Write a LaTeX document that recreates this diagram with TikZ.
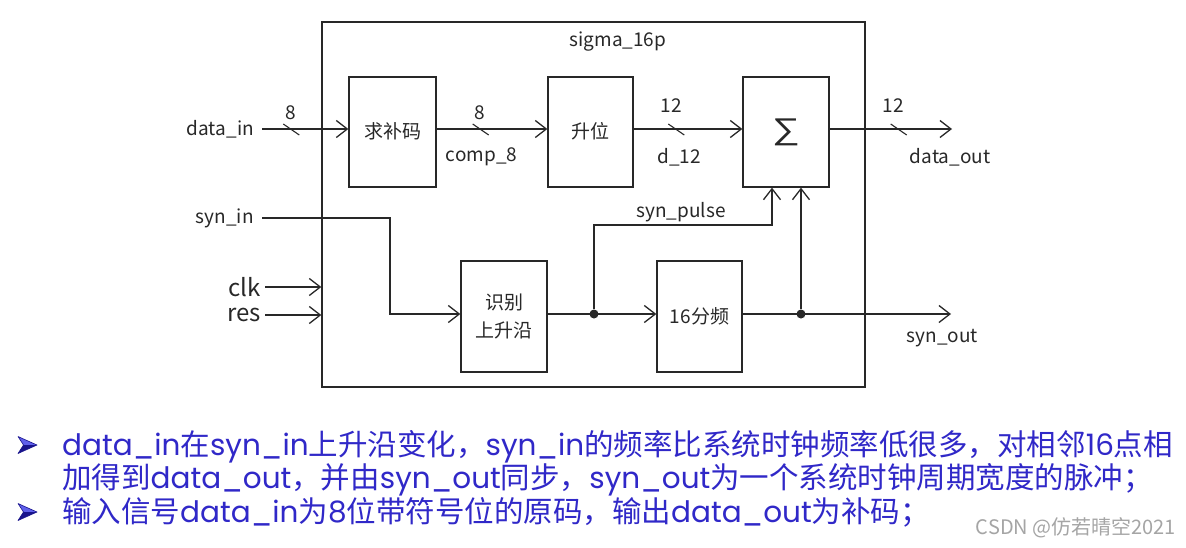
\documentclass[tikz,border=0pt]{standalone}
\usepackage{fontspec}
\usepackage{graphicx}
\setmainfont{Noto Sans CJK SC}
\newfontfamily\lat{Poppins}
\newfontfamily\lib{Liberation Sans}
\usetikzlibrary{arrows.meta,calc}
\definecolor{ink}{RGB}{40,40,40}
\definecolor{txtblue}{RGB}{48,40,200}
\definecolor{bulletdark}{RGB}{25,20,140}
\definecolor{bulletlight}{RGB}{95,95,235}
\definecolor{wm}{RGB}{165,165,165}
\begin{document}
\begin{tikzpicture}[x=1pt,y=-1pt,
 blk/.style={draw=ink, line width=1.3pt, minimum width=86pt, minimum height=110pt, inner sep=0pt, font=\fontsize{19}{28}\selectfont, text=ink, align=center},
 sig/.style={draw=ink, line width=1.3pt},
 arr/.style={sig, -{Straight Barb[length=11pt,width=17pt]}},
 lbl/.style={font=\fontsize{19}{22}\selectfont, text=ink, inner sep=0pt},
 port/.style={lbl, anchor=east, inner xsep=8pt},
 bigport/.style={port, font=\fontsize{24}{26}\selectfont, inner xsep=4pt},
 bw/.style={font=\fontsize{29.5}{33.5}\selectfont, text=txtblue, anchor=base west, inner sep=0pt, align=left},
 dot/.style={circle, fill=ink, inner sep=0pt, minimum size=9pt}
]
\useasboundingbox (0,0) rectangle (1186,547);
\fill[white] (0,0) rectangle (1186,547);

% outer module
\node[draw=ink, line width=1.3pt, minimum width=543pt, minimum height=365pt, inner sep=0pt] (mod) at (593.5,204.5) {};
\node[lbl] (title) at (618,42) {sigma\_16p};

% rows
\coordinate (r1) at (0,129);
\coordinate (r2) at (0,314);

% blocks
\node[blk, minimum width=87pt] (comp) at (392.5,132) {\raisebox{3pt}{求补码}};
\node[blk, minimum width=85pt] (ext) at (590.5,132) {\raisebox{3pt}{升位}};
\node[blk] (sum) at (786,132) {\raisebox{3pt}{\scalebox{1.3}[1]{\fontsize{30}{30}\lib ∑}}};
\node[blk, minimum height=111pt] (edge) at (504,316.5) {识别\\上升沿};
\node[blk, minimum width=85pt, minimum height=111pt] (div) at (699.5,316.5) {\raisebox{2pt}{16分频}};

% ports
\node[port] (din) at (262,129) {data\_in};
\node[port] (sin) at (262,218) {syn\_in};
\node[bigport] (clk) at (265,287) {clk};
\node[bigport] (res) at (265,315) {res};
\coordinate (dout) at (952,129);
\coordinate (sout) at (951,314);
\coordinate (bend1) at (390,314);
\coordinate (sp) at (772,225);

% junctions
\node[dot] (j1) at (594,314) {};
\node[dot] (j2) at (801,314) {};

% data path
\draw[arr] (din.east) -- (comp.west|-r1);
\draw[arr] (comp.east|-r1) -- (ext.west|-r1);
\draw[arr] (ext.east|-r1) -- (sum.west|-r1);
\draw[arr] (sum.east|-r1) -- (dout);

% bus marks
\foreach \x in {283.3,472.7,668.3,890.7}
  \draw[sig, line width=1.1pt] (\x,124) -- ++(16,11);
\node[lbl] (w1) at (290.5,113) {8};
\node[lbl] (w2) at (479.5,113) {8};
\node[lbl] (w3) at (671.5,106) {12};
\node[lbl] (w4) at (893.5,106) {12};
\node[lbl] (c8) at (481.5,157) {comp\_8};
\node[lbl] (d12) at (679,157) {d\_12};
\node[lbl] (doutl) at (950,157) {data\_out};

% sync path
\draw[arr] (sin.east) -| (bend1) -- (edge.west|-r2);
\draw[arr] (clk.east) -- (mod.west|-clk.east);
\draw[arr] (res.east) -- (mod.west|-res.east);
\draw[arr] (edge.east|-r2) -- (div.west|-r2);
\draw[arr] (j1) |- (sp) -- (sum.south-|sp);
\draw[arr] (div.east|-r2) -- (sout);
\draw[arr] (j2) -- (sum.south-|j2);
\node[lbl] (spl) at (681,212) {syn\_pulse};
\node[lbl] (soutl) at (942.5,338) {syn\_out};

% bullets
\foreach \yy in {445,512} {
  \fill[bulletlight] (18,\yy-8.5) -- (37,\yy) -- (23.5,\yy) -- cycle;
  \fill[bulletdark] (23.5,\yy) -- (37,\yy) -- (18,\yy+8.5) -- cycle;
  \draw[bulletdark, line width=0.6pt, line join=round] (18,\yy-8.5) -- (37,\yy) -- (18,\yy+8.5) -- (23.5,\yy) -- cycle;
}

% description text
\node[bw] (txt) at (62,522) {{\lat data\_in}在{\lat syn\_in}上升沿变化，{\lat syn\_in}的频率比系统时钟频率低很多，对相邻{\lat 16}点相\\
加得到{\lat data\_out}，并由{\lat syn\_out}同步，{\lat syn\_out}为一个系统时钟周期宽度的脉冲；\\
输入信号{\lat data\_in}为{\lat 8}位带符号位的原码，输出{\lat data\_out}为补码；};

% watermark
\node[font=\fontsize{20}{22}\selectfont, text=wm, inner sep=0pt] (wmk) at (1076,528) {CSDN @仿若晴空2021};
\end{tikzpicture}
\end{document}
